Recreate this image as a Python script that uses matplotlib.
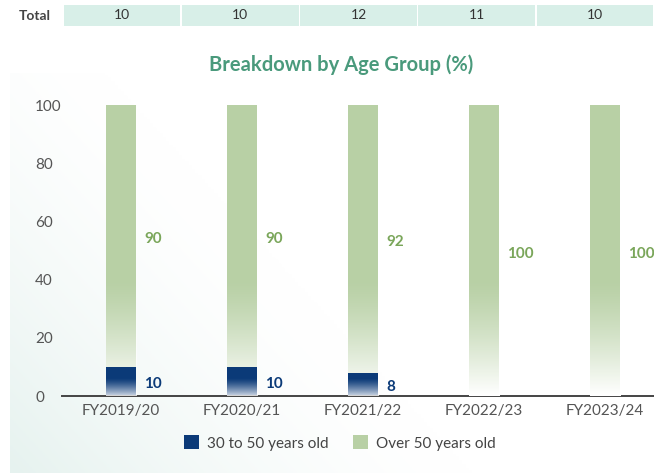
import numpy as np
import matplotlib
matplotlib.use("Agg")
import matplotlib.pyplot as plt
from matplotlib.colors import to_rgb

plt.rcParams['font.family'] = ['Lato', 'DejaVu Sans']

years = ["FY2019/20", "FY2020/21", "FY2021/22", "FY2022/23", "FY2023/24"]
totals = [10, 10, 12, 11, 10]
age_30_50 = [10, 10, 8, 0, 0]
over_50 = [90, 90, 92, 100, 100]

blue = "#0b3a78"
green = "#b8d0a5"
title_green = "#4a9a7c"
label_green = "#7aa65a"
mint = "#d8efe8"
grey = "#555555"

W, H = 654, 473
fig = plt.figure(figsize=(W / 100, H / 100), dpi=100)

# faint background panel
bg = fig.add_axes([10 / W, 0, 1 - 10 / W, 1 - 73 / H], zorder=-5)
gx = np.linspace(0, 1, 200)
gy = np.linspace(0, 1, 200)
GX, GY = np.meshgrid(gx, gy)
t = np.clip(1 - (GX * 1.4 + GY * 0.8) / 1.0, 0, 1) ** 1.5
c0 = np.array(to_rgb("#e6f2ef"))
img = np.ones((200, 200, 3)) * (1 - t[..., None]) + c0 * t[..., None]
bg.imshow(img, extent=[0, 1, 0, 1], origin="lower", aspect="auto")
bg.axis("off")

# totals row
tab = fig.add_axes([63 / W, 1 - 26 / H, (W - 63) / W, 21 / H])
x = np.arange(len(years))
tab.bar(x, 1, width=0.985, color=mint)
for xi, tv in zip(x, totals):
    tab.text(xi, 0.5, str(tv), ha="center", va="center", fontsize=10, color="#333333")
tab.set_xlim(-0.5, 4.5)
tab.set_ylim(0, 1)
tab.axis("off")
fig.text(35 / W, 1 - 16 / H, "Total", ha="center", va="center", fontsize=10,
         fontweight="bold", color="#444444")

fig.text(341 / W, 1 - 65 / H, "Breakdown by Age Group (%)", ha="center", va="center",
         fontsize=14.5, fontweight="bold", color=title_green)

# main chart
ax = fig.add_axes([62 / W, 1 - 396 / H, (W - 62) / W, (396 - 105) / H])
ax.patch.set_alpha(0)
bw = 0.256
b1 = ax.bar(x, age_30_50, width=bw, color=blue, label="30 to 50 years old", zorder=2)
b2 = ax.bar(x, over_50, width=bw, bottom=age_30_50, color=green, label="Over 50 years old", zorder=2)


def fade(patch, top, strength):
    # white overlay fading out upwards, clipped to the bar
    x0, y0 = patch.get_x(), patch.get_y()
    w, h = patch.get_width(), patch.get_height()
    if h <= 0:
        return
    ys = np.linspace(y0, y0 + h, 100)
    a = np.clip(1 - ys / top, 0, 1) ** 1.3 * strength
    rgba = np.ones((100, 1, 4))
    rgba[:, 0, 3] = a
    im = ax.imshow(rgba, extent=[x0, x0 + w, y0, y0 + h], origin="lower",
                   aspect="auto", zorder=3, interpolation="bilinear")
    im.set_clip_path(patch)


for p in b1:
    fade(p, 6, 0.8)
for p in b2:
    fade(p, 40, 1.0)

for xi, a, o in zip(x, age_30_50, over_50):
    if a > 0:
        ax.text(xi + bw / 2 + 0.065, a / 2 - 0.8, str(a), ha="left", va="center",
                fontsize=11, fontweight="bold", color=blue)
    ax.text(xi + bw / 2 + 0.065, a + o / 2 - 1.2, str(o), ha="left", va="center",
            fontsize=11, fontweight="bold", color=label_green)

ax.set_xlim((62 - 121) / 121, (654 - 121) / 121)
ax.set_ylim(0, 100)
ax.set_aspect("auto")
ax.set_xticks(x)
ax.set_xticklabels(years, fontsize=11, color=grey)
ax.set_yticks([0, 20, 40, 60, 80, 100])
ax.set_yticklabels(["0", "20", "40", "60", "80", "100"], fontsize=11, color=grey, ha="left")
ax.tick_params(axis="y", length=0, pad=27 * 0.72)
ax.tick_params(axis="x", length=0, pad=6)
for s in ["top", "right", "left"]:
    ax.spines[s].set_visible(False)
ax.spines["bottom"].set_color("#444444")
ax.spines["bottom"].set_linewidth(1.4)

fig.legend(handles=[b1, b2], loc="center", bbox_to_anchor=(340 / W, 1 - 443 / H), ncol=2,
           frameon=False, fontsize=11, handlelength=1.0, handleheight=1.0,
           columnspacing=1.6, handletextpad=0.5, labelcolor="#444444")

fig.savefig("out.png", dpi=100)
